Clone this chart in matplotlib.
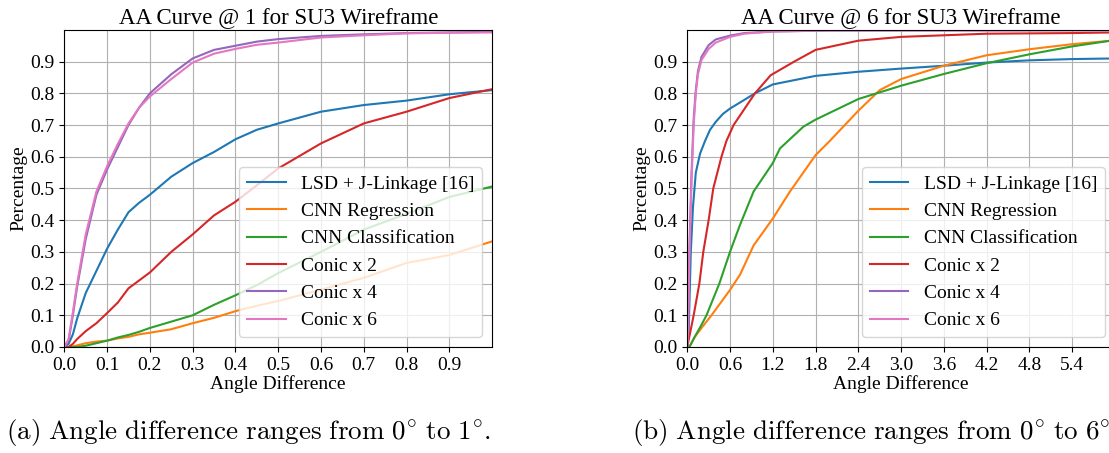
import numpy as np
import matplotlib
matplotlib.use('Agg')
import matplotlib.pyplot as plt

plt.rcParams['font.family'] = ['Liberation Serif', 'DejaVu Serif']
plt.rcParams['mathtext.fontset'] = 'cm'

labels = ['LSD + J-Linkage [16]', 'CNN Regression', 'CNN Classification',
          'Conic x 2', 'Conic x 4', 'Conic x 6']
colors = ['tab:blue', 'tab:orange', 'tab:green', 'tab:red', 'tab:purple', 'tab:pink']

# AA curve, angle difference 0..1 degree (shared x samples)
ang1 = [0, 0.01, 0.02, 0.03, 0.05, 0.075, 0.1, 0.125, 0.15, 0.175, 0.2,
        0.25, 0.3, 0.35, 0.4, 0.45, 0.5, 0.6, 0.7, 0.8, 0.9, 1.0]
lsd1 = [0, 0.01, 0.04, 0.09, 0.17, 0.24, 0.31, 0.37, 0.425, 0.455, 0.48,
        0.537, 0.58, 0.615, 0.655, 0.685, 0.705, 0.742, 0.763, 0.777, 0.797, 0.81]
reg1 = [0, 0, 0.002, 0.005, 0.012, 0.017, 0.02, 0.027, 0.032, 0.04, 0.045,
        0.056, 0.075, 0.092, 0.113, 0.13, 0.145, 0.181, 0.218, 0.265, 0.29, 0.333]
cls1 = [0, 0, 0, 0, 0.004, 0.012, 0.02, 0.03, 0.038, 0.048, 0.06,
        0.08, 0.10, 0.133, 0.163, 0.195, 0.233, 0.30, 0.37, 0.42, 0.473, 0.506]
conic2_1 = [0, 0, 0.01, 0.025, 0.05, 0.075, 0.107, 0.14, 0.185, 0.21, 0.235,
            0.30, 0.355, 0.415, 0.458, 0.51, 0.563, 0.642, 0.705, 0.742, 0.785, 0.813]
conic4_1 = [0, 0.02, 0.10, 0.19, 0.34, 0.48, 0.56, 0.63, 0.70, 0.755, 0.80,
            0.86, 0.91, 0.937, 0.95, 0.963, 0.971, 0.981, 0.986, 0.99, 0.992, 0.994]
conic6_1 = [0, 0.025, 0.11, 0.20, 0.355, 0.49, 0.57, 0.64, 0.705, 0.755, 0.79,
            0.845, 0.897, 0.925, 0.94, 0.953, 0.96, 0.976, 0.983, 0.989, 0.991, 0.992]

# AA curve, angle difference 0..6 degree (each series has its own x samples)
lsd6_x = [0, 0.02, 0.05, 0.08, 0.12, 0.18, 0.25, 0.32, 0.4, 0.5, 0.6, 0.74,
          0.95, 1.2, 1.8, 2.4, 3.0, 3.6, 4.2, 4.8, 5.4, 6.0]
lsd6_y = [0, 0.05, 0.30, 0.44, 0.55, 0.61, 0.65, 0.685, 0.71, 0.735, 0.752, 0.771,
          0.80, 0.828, 0.855, 0.868, 0.878, 0.887, 0.897, 0.904, 0.908, 0.91]
reg6_x = [0, 0.03, 0.1, 0.2, 0.34, 0.6, 0.74, 0.93, 1.2, 1.44, 1.8, 2.0,
          2.4, 2.7, 3.0, 3.6, 4.2, 4.8, 5.4, 6.0]
reg6_y = [0, 0, 0.03, 0.06, 0.1, 0.18, 0.228, 0.32, 0.405, 0.49, 0.605, 0.65,
          0.745, 0.81, 0.845, 0.887, 0.92, 0.939, 0.955, 0.967]
cls6_x = [0, 0.03, 0.1, 0.2, 0.27, 0.45, 0.6, 0.74, 0.93, 1.2, 1.3, 1.63,
          1.8, 2.4, 3.0, 3.6, 4.2, 4.8, 5.4, 6.0]
cls6_y = [0, 0, 0.03, 0.07, 0.1, 0.2, 0.30, 0.385, 0.49, 0.58, 0.626, 0.695,
          0.717, 0.782, 0.824, 0.861, 0.895, 0.923, 0.948, 0.968]
conic2_6_x = [0, 0.09, 0.17, 0.225, 0.3, 0.365, 0.48, 0.55, 0.65, 0.8, 0.95,
              1.17, 1.5, 1.8, 2.4, 3.0, 3.6, 4.2, 5.4, 6.0]
conic2_6_y = [0, 0.1, 0.2, 0.3, 0.4, 0.5, 0.6, 0.65, 0.7, 0.75, 0.80,
              0.857, 0.9, 0.937, 0.966, 0.978, 0.983, 0.988, 0.99, 0.992]
conic4_6_x = [0, 0.01, 0.03, 0.06, 0.09, 0.12, 0.15, 0.2, 0.3, 0.4, 0.6, 0.8,
              1.2, 2.0, 6.0]
conic4_6_y = [0, 0.05, 0.3, 0.55, 0.72, 0.81, 0.87, 0.915, 0.952, 0.97, 0.982,
              0.99, 0.995, 0.998, 0.999]
conic6_6_x = [0, 0.01, 0.03, 0.06, 0.09, 0.12, 0.15, 0.2, 0.3, 0.4, 0.6, 0.8,
              1.2, 2.0, 6.0]
conic6_6_y = [0, 0.04, 0.28, 0.52, 0.70, 0.80, 0.86, 0.905, 0.94, 0.96, 0.978,
              0.988, 0.995, 0.998, 0.999]

fig = plt.figure(figsize=(11.09, 4.53), dpi=100)
ax1 = fig.add_axes([0.058, 0.234, 0.3857, 0.70])
ax2 = fig.add_axes([0.6197, 0.234, 0.3857, 0.70])

for y, lab, c in zip([lsd1, reg1, cls1, conic2_1, conic4_1, conic6_1], labels, colors):
    ax1.plot(ang1, y, label=lab, color=c)

curves6 = [(lsd6_x, lsd6_y), (reg6_x, reg6_y), (cls6_x, cls6_y),
           (conic2_6_x, conic2_6_y), (conic4_6_x, conic4_6_y),
           (conic6_6_x, conic6_6_y)]
for (x, y), lab, c in zip(curves6, labels, colors):
    ax2.plot(x, y, label=lab, color=c)

for ax, top, step, n in [(ax1, 1, 0.1, 1), (ax2, 6, 0.6, 6)]:
    ax.set_xlim(0, top)
    ax.set_ylim(0, 1)
    ax.set_xticks(np.arange(0, top - 1e-9, step))
    ax.set_yticks(np.arange(0, 0.95, 0.1))
    ax.xaxis.set_major_formatter(matplotlib.ticker.FormatStrFormatter('%.1f'))
    ax.yaxis.set_major_formatter(matplotlib.ticker.FormatStrFormatter('%.1f'))
    ax.tick_params(labelsize=14)
    ax.grid(True)
    ax.set_title('AA Curve @ %d for SU3 Wireframe' % n, fontsize=16.5, pad=4)
    ax.set_xlabel('Angle Difference', fontsize=14, labelpad=1)
    ax.set_ylabel('Percentage', fontsize=14, labelpad=2)
    ax.legend(loc='lower right', fontsize=14)

# sub-figure captions in Computer Modern
fig.text(0.005, 0.046,
         r'$\mathrm{(a)\ Angle\ difference\ ranges\ from\ 0^{\circ}\ to\ 1^{\circ}.}$',
         fontsize=19.5, va='center')
fig.text(0.57, 0.046,
         r'$\mathrm{(b)\ Angle\ difference\ ranges\ from\ 0^{\circ}\ to\ 6^{\circ}}$',
         fontsize=19.5, va='center')

fig.savefig('out.png', dpi=100)
